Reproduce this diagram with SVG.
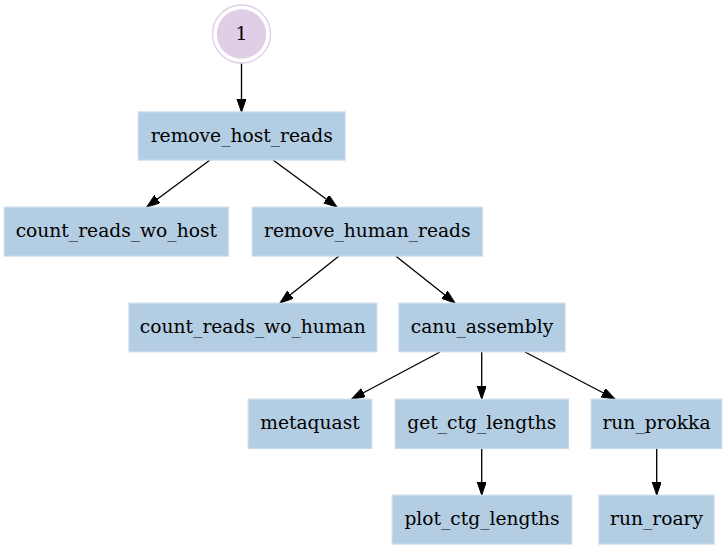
<svg xmlns="http://www.w3.org/2000/svg" width="727" height="549" viewBox="0 0 727 549">
<style>
.box{fill:#b3cde3;stroke:#c6d8ea;stroke-width:1.33}
.lbl{font-family:"DejaVu Serif",serif;font-size:18.67px;text-anchor:middle;fill:#000}
.edge{stroke:#000;stroke-width:1.33;fill:none}
</style>
<defs>
<marker id="ah" markerUnits="userSpaceOnUse" markerWidth="14" markerHeight="10" refX="13.3" refY="4.67" orient="auto">
<path d="M0,0 L13.3,4.67 L0,9.33 z" fill="#000" stroke="#000" stroke-width="1"/>
</marker>
</defs>
<rect width="727" height="549" fill="#fff"/>
<g id="connectors">
<line class="edge" x1="241.5" y1="63" x2="241.5" y2="112" marker-end="url(#ah)"/>
<line class="edge" x1="210" y1="160" x2="146.7" y2="207" marker-end="url(#ah)"/>
<line class="edge" x1="273" y1="160" x2="337" y2="207" marker-end="url(#ah)"/>
<line class="edge" x1="339" y1="256" x2="280" y2="303" marker-end="url(#ah)"/>
<line class="edge" x1="395.7" y1="256" x2="455" y2="303" marker-end="url(#ah)"/>
<line class="edge" x1="440" y1="352" x2="351.7" y2="399" marker-end="url(#ah)"/>
<line class="edge" x1="481.7" y1="352" x2="481.7" y2="399" marker-end="url(#ah)"/>
<line class="edge" x1="525" y1="352" x2="615" y2="399" marker-end="url(#ah)"/>
<line class="edge" x1="481.7" y1="448" x2="481.7" y2="495" marker-end="url(#ah)"/>
<line class="edge" x1="656.7" y1="448" x2="656.7" y2="495" marker-end="url(#ah)"/>
</g>
<g id="node_1">
<circle cx="241.5" cy="34" r="29" fill="none" stroke="#e0cde6" stroke-width="1.33"/>
<circle cx="241.5" cy="34" r="24.7" fill="#e0cde6"/>
<text class="lbl" x="241.5" y="39.6">1</text>
</g>
<g id="node_remove_host_reads">
<rect class="box" x="138.3" y="112" width="206.7" height="48"/>
<text class="lbl" x="241.7" y="141.6">remove_host_reads</text>
</g>
<g id="node_count_reads_wo_host">
<rect class="box" x="4.3" y="207.3" width="224" height="48.7"/>
<text class="lbl" x="116.3" y="237.2">count_reads_wo_host</text>
</g>
<g id="node_remove_human_reads">
<rect class="box" x="252.3" y="207.3" width="230" height="48.7"/>
<text class="lbl" x="367.3" y="237.2">remove_human_reads</text>
</g>
<g id="node_count_reads_wo_human">
<rect class="box" x="129" y="303.3" width="247.7" height="48.4"/>
<text class="lbl" x="252.8" y="333.1">count_reads_wo_human</text>
</g>
<g id="node_canu_assembly">
<rect class="box" x="399" y="303.3" width="166" height="48.4"/>
<text class="lbl" x="482" y="333.1">canu_assembly</text>
</g>
<g id="node_metaquast">
<rect class="box" x="248.3" y="399.3" width="123.4" height="49"/>
<text class="lbl" x="310" y="429.4">metaquast</text>
</g>
<g id="node_get_ctg_lengths">
<rect class="box" x="395.3" y="399.3" width="173" height="49"/>
<text class="lbl" x="481.8" y="429.4">get_ctg_lengths</text>
</g>
<g id="node_run_prokka">
<rect class="box" x="591.3" y="399.3" width="130.4" height="49"/>
<text class="lbl" x="656.5" y="429.4">run_prokka</text>
</g>
<g id="node_plot_ctg_lengths">
<rect class="box" x="392.3" y="495.3" width="179.4" height="48.7"/>
<text class="lbl" x="482" y="525.2">plot_ctg_lengths</text>
</g>
<g id="node_run_roary">
<rect class="box" x="599" y="495.3" width="115" height="48.7"/>
<text class="lbl" x="656.5" y="525.2">run_roary</text>
</g>
</svg>
